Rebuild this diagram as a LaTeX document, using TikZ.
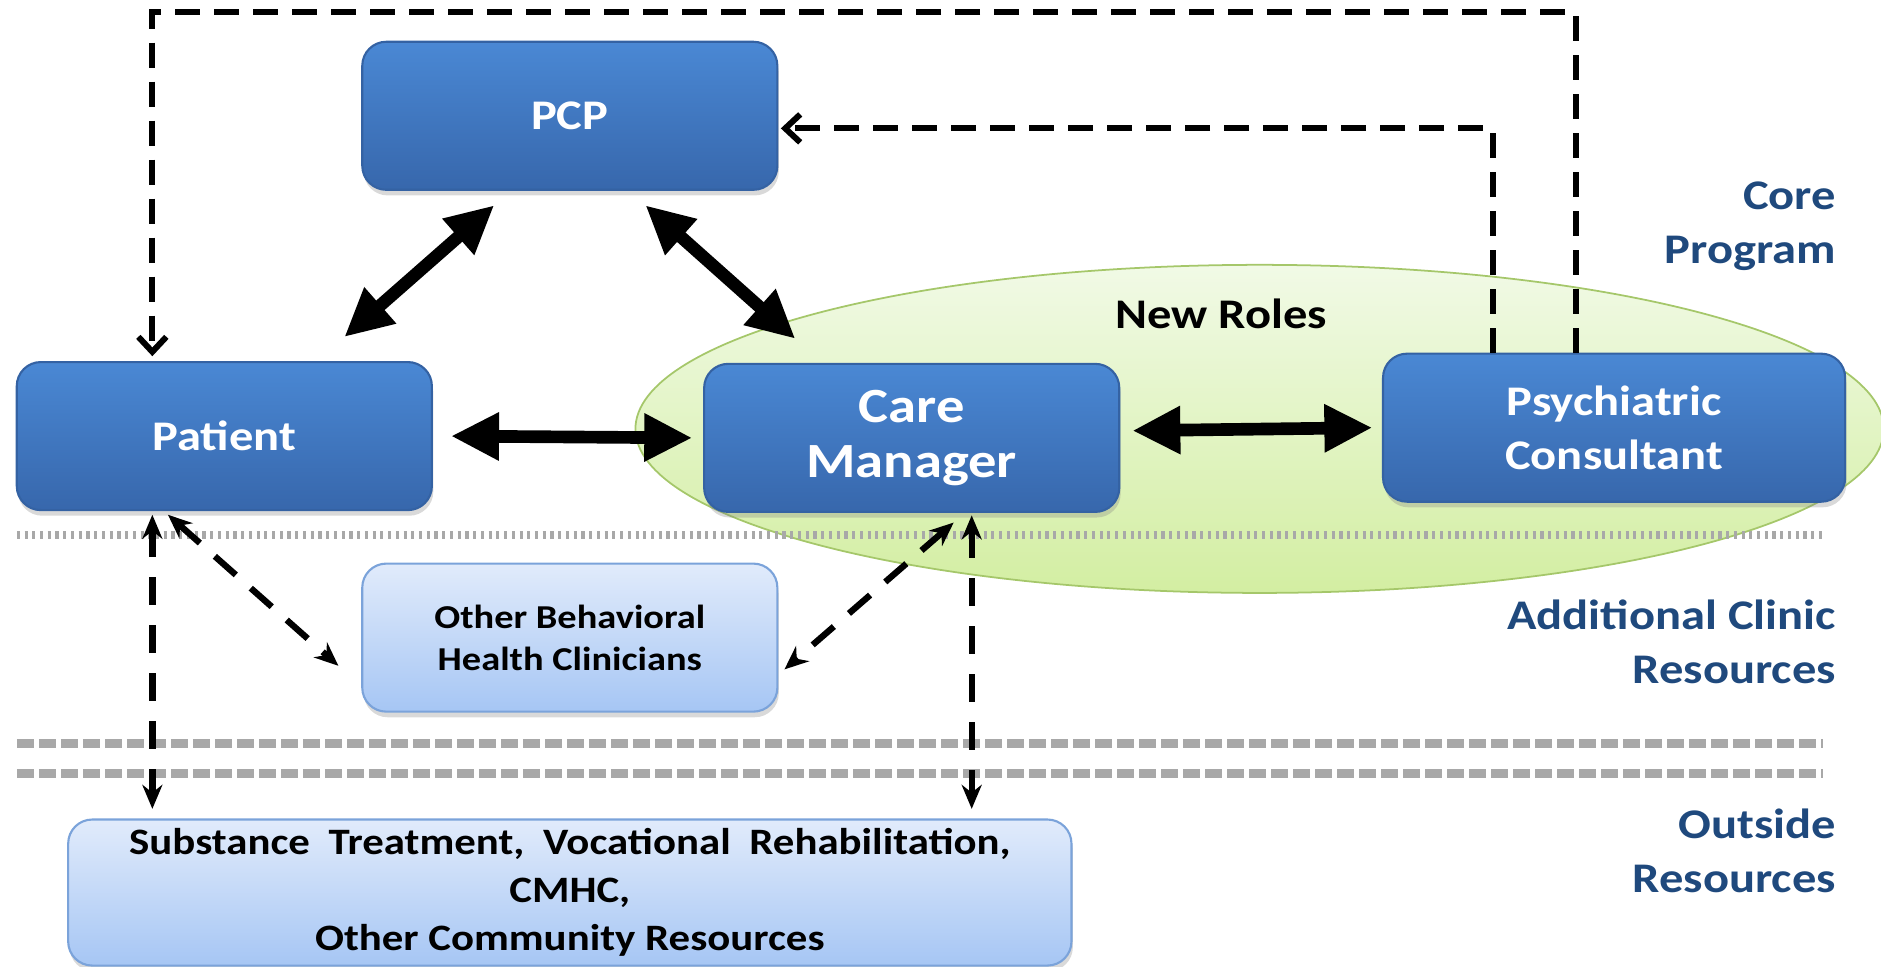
\documentclass[tikz,border=0pt]{standalone}
\usepackage{fontspec}
\setmainfont{Carlito}[FakeStretch=1.15]
\usetikzlibrary{arrows.meta,calc,shadows}
\definecolor{boxtop}{HTML}{4A88D4}
\definecolor{boxbot}{HTML}{3767AC}
\definecolor{boxline}{HTML}{3462A3}
\definecolor{lighttop}{HTML}{E1EBFB}
\definecolor{lightbot}{HTML}{A6C6F4}
\definecolor{lightline}{HTML}{7BA3DA}
\definecolor{elltop}{HTML}{F1FAE6}
\definecolor{ellbot}{HTML}{D3EEA2}
\definecolor{ellline}{HTML}{A5C76A}
\definecolor{tiercol}{HTML}{1F497D}
\definecolor{sepcol}{HTML}{A8A8A8}
\begin{document}
\begin{tikzpicture}[
		x=0.012cm, y=-0.012cm,
		role/.style = {shape=rectangle, rounded corners=0.24cm,
			draw=boxline, line width=0.6pt, top color=boxtop, bottom color=boxbot,
			text=white, align=center, inner sep=2pt,
			minimum width=4.15cm, minimum height=1.48cm,
			font=\fontsize{12}{15.4}\selectfont\bfseries,
			drop shadow={opacity=0.3, shadow xshift=0.4pt, shadow yshift=-1.6pt}},
		extra/.style = {role, draw=lightline, top color=lighttop, bottom color=lightbot,
			text=black, font=\fontsize{9.5}{12}\selectfont\bfseries},
		tier/.style = {anchor=east, align=right, text=tiercol, inner sep=0pt,
			font=\fontsize{12}{15.4}\selectfont\bfseries},
		newroles/.style = {draw=ellline, line width=0.5pt, top color=elltop, bottom color=ellbot},
		sepdots/.style = {draw=sepcol, line width=2.2pt, dash pattern=on 0.9pt off 1.3pt},
		sepdash/.style = {draw=sepcol, line width=2.6pt, dash pattern=on 0.17cm off 0.05cm},
		link/.style = {line width=3.6pt,
			{Triangle[length=0.48cm,width=0.45cm]}-{Triangle[length=0.48cm,width=0.45cm]}},
		refer/.style = {line width=1.8pt, dash pattern=on 0.28cm off 0.2cm,
			{Stealth[length=0.24cm,width=0.2cm]}-{Stealth[length=0.24cm,width=0.2cm]}},
		feedback/.style = {line width=1.7pt, dash pattern=on 0.25cm off 0.14cm,
			-{Straight Barb[length=0.15cm,width=0.28cm]}},
		]
		
		\useasboundingbox (0,0) rectangle (1568,806);
		
		% new roles
		\path[newroles] (1050,357.5) ellipse [x radius=6.24cm, y radius=1.64cm];
		\node[tier, anchor=center, text=black] (newlbl) at (1018,262) {New Roles};
		
		% tier separators
		\draw[sepdots] (14,446) -- (1520,446);
		\draw[sepdash] (14,620) -- (1520,620);
		\draw[sepdash] (14,645) -- (1520,645);
		
		% boxes
		\node[role] (pcp) at (475,96.5) {PCP};
		\node[role] (patient) at (187,363.5) {Patient};
		\node[role, font=\fontsize{14}{15.8}\selectfont\bfseries] (care) at (760,365) {Care\\Manager};
		\node[role, minimum width=4.62cm] (psych) at (1345.5,356.5) {Psychiatric\\Consultant};
		\node[extra] (other) at (475,531.5) {Other Behavioral\\Health Clinicians};
		\node[extra, minimum width=10.03cm, minimum height=1.46cm,
			font=\fontsize{10.6}{13.7}\selectfont\bfseries] (outside) at (475,744)
			{\spaceskip=0.5em\relax Substance Treatment, Vocational Rehabilitation,\\CMHC,\\Other Community Resources};
		
		% tier labels
		\node[tier] (core) at (1531,188.5) {Core\\Program};
		\node[tier] (clinic) at (1531,535) {Additional Clinic\\Resources};
		\node[tier] (beyond) at (1531,709) {Outside\\Resources};
		
		% core links
		\draw[link] ($(pcp.south)+(-63,12)$) -- ($(patient.north)+(100,-20)$);
		\draw[link] ($(pcp.south)+(63,12)$) -- ($(care.north)+(-97,-20)$);
		\draw[link] ($(patient.east)+(15,0)$) -- ($(care.west)+(-9,0)$);
		\draw[link] ($(care.east)+(10,-6)$) -- ($(psych.west)+(-8,0)$);
		
		% consultant feedback
		\coordinate (corner) at (127,10);
		\draw[feedback] ($(psych.north)+(-32,0)$) |- (corner) -- ($(patient.north)+(-60,-4)$);
		\draw[feedback] ($(psych.north)+(-101,0)$) |- ($(pcp.east)+(2,10.5)$);
		
		% referrals
		\draw[refer] ($(patient.south)+(-60,3)$) -- ($(outside.north)+(-348,-8)$);
		\draw[refer] ($(care.south)+(50,2)$) -- ($(outside.north)+(335,-8)$);
		\draw[refer] ($(patient.south)+(-47,3)$) -- ($(other.west)+(-19,23.5)$);
		\draw[refer] ($(care.south)+(35,8)$) -- ($(other.east)+(5,26.5)$);
		
	\end{tikzpicture}
\end{document}
